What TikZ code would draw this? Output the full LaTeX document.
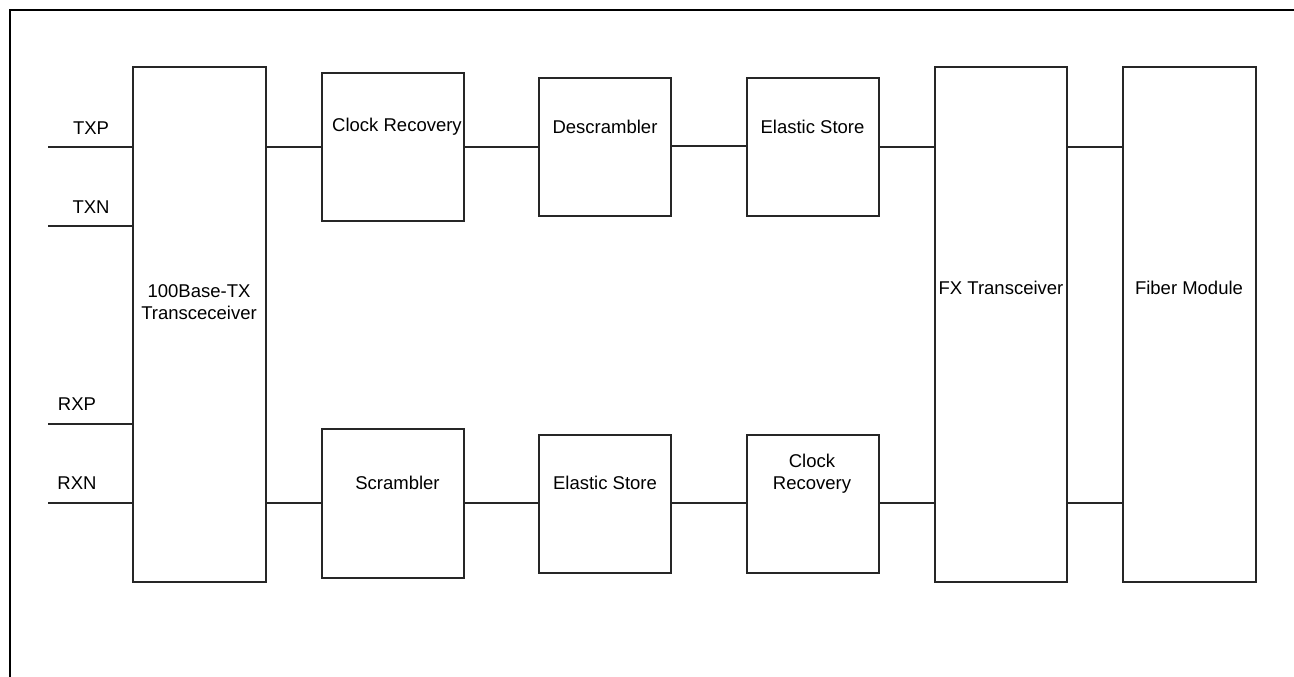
\documentclass[tikz,border=0pt]{standalone}
\usepackage{fontspec}
\setmainfont{Liberation Sans}
\usetikzlibrary{calc}
\begin{document}
\begin{tikzpicture}[x=1pt,y=-1pt,
  blk/.style={draw=black!85,line width=1.1pt,inner sep=0pt,outer sep=0pt},
  lbl/.style={inner sep=0pt,font=\fontsize{18.5}{22}\selectfont,align=center},
  wire/.style={draw=black!85,line width=1.1pt}]
\useasboundingbox (0,0) rectangle (1294,677);
\draw[line width=2.6pt] (10,677) -- (10,10) -- (1294,10);
% boxes
\node[blk,minimum width=133pt,minimum height=515pt] (tx) at (199.5,324.5) {};
\node[blk,minimum width=142pt,minimum height=148pt] (cr1) at (393,147) {};
\node[blk,minimum width=132pt,minimum height=138pt] (ds) at (605,147) {};
\node[blk,minimum width=132pt,minimum height=138pt] (es1) at (813,147) {};
\node[blk,minimum width=132pt,minimum height=515pt] (fx) at (1001,324.5) {};
\node[blk,minimum width=133pt,minimum height=515pt] (fm) at (1189.5,324.5) {};
\node[blk,minimum width=142pt,minimum height=149pt] (scr) at (393,503.5) {};
\node[blk,minimum width=132pt,minimum height=138pt] (es2) at (605,504) {};
\node[blk,minimum width=132pt,minimum height=138pt] (cr2) at (813,504) {};
% texts
\node[lbl] (ttx) at (199,302) {100Base-TX\\Transceceiver};
\node[lbl] (tcr1) at (397,127) {Clock Recovery};
\node[lbl] (tds) at (605,127) {Descrambler};
\node[lbl] (tes1) at (812.5,127) {Elastic Store};
\node[lbl] (tfx) at (1001,288) {FX Transceiver};
\node[lbl] (tfm) at (1189,288) {Fiber Module};
\node[lbl] (tscr) at (397.5,483) {Scrambler};
\node[lbl] (tes2) at (605,483) {Elastic Store};
\node[lbl] (tcr2) at (812,474) {Clock\\Recovery};
\node[lbl] (ltxp) at (91,128) {TXP};
\node[lbl] (ltxn) at (91,207) {TXN};
\node[lbl] (lrxp) at (77,404) {RXP};
\node[lbl] (lrxn) at (77,483) {RXN};
% input wires
\coordinate (txp) at (48,147);
\coordinate (txn) at (48,226);
\coordinate (rxp) at (48,424);
\coordinate (rxn) at (48,503);
\draw[wire] (txp) -- (txp -| tx.west);
\draw[wire] (txn) -- (txn -| tx.west);
\draw[wire] (rxp) -- (rxp -| tx.west);
\draw[wire] (rxn) -- (rxn -| tx.west);
% top chain
\draw[wire] (tx.east |- cr1.west) -- (cr1.west);
\draw[wire] (cr1.east) -- (ds.west);
\draw[wire] ($(ds.east)+(0,-1)$) -- ($(es1.west)+(0,-1)$);
\draw[wire] (es1.east) -- (es1.east -| fx.west);
\draw[wire] (fx.east |- es1.east) -- (fm.west |- es1.east);
% bottom chain
\coordinate (yb) at (0,503);
\draw[wire] (tx.east |- yb) -- (scr.west |- yb);
\draw[wire] (scr.east |- yb) -- (es2.west |- yb);
\draw[wire] (es2.east |- yb) -- (cr2.west |- yb);
\draw[wire] (cr2.east |- yb) -- (fx.west |- yb);
\draw[wire] (fx.east |- yb) -- (fm.west |- yb);
\end{tikzpicture}
\end{document}
